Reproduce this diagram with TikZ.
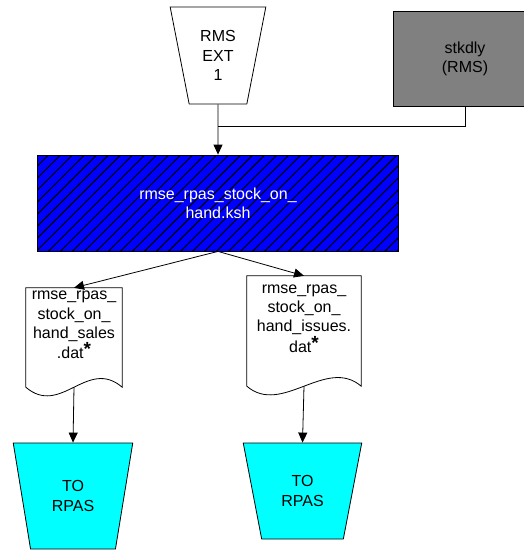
\documentclass[tikz,border=0pt]{standalone}
\usepackage{fontspec}
\setmainfont{Liberation Sans}
\usetikzlibrary{shapes.geometric,arrows.meta,patterns.meta}

\definecolor{stkgray}{RGB}{128,128,128}
\definecolor{kshblue}{RGB}{0,0,255}
\definecolor{rpascyan}{RGB}{0,255,255}

\newcommand{\datstar}{\raisebox{3pt}{\fontsize{19}{19}\selectfont\bfseries *}}

\tikzset{
  every node/.style={font=\fontsize{16}{19.2}\selectfont, align=center},
  outlet/.style={draw, line width=0.8pt, trapezium, shape border rotate=180,
    trapezium stretches=true, inner sep=0pt},
  datfile/.style={inner sep=2pt},
  flow/.style={line width=0.8pt},
  arr/.style={line width=0.8pt, -{Triangle[length=10pt,width=9pt]}}
}

\begin{document}
\begin{tikzpicture}[x=1pt,y=1pt,yscale=-1]
  \useasboundingbox (0,0) rectangle (523,552);

  \node[outlet, trapezium angle=76.7, minimum width=96pt, minimum height=97pt] (ext) at (218,55.5) {RMS\\EXT\\1};
  \node[draw, line width=0.8pt, fill=stkgray, minimum width=144pt, minimum height=95pt] (stk) at (465,58.5) {stkdly\\(RMS)};
  \node[draw, line width=0.8pt, fill=kshblue, text=white,
    postaction={pattern={Lines[angle=45,distance=8.5pt,line width=1.1pt]}},
    minimum width=361pt, minimum height=96pt] (soh) at (218,203) {rmse\_rpas\_stock\_on\_\\hand.ksh};

  \node[datfile, minimum width=96pt, minimum height=99pt] (sales) at (74,337.5)
    {rmse\_rpas\_\\stock\_on\_\\hand\_sales\\.dat\datstar\\[6pt]};
  \node[datfile, minimum width=114pt, minimum height=110pt] (issues) at (304,331)
    {rmse\_rpas\_\\stock\_on\_\\hand\_issues.\\dat\datstar\\[6pt]};
  \foreach \f in {sales,issues}
    \draw[flow] (\f.north west) -- (\f.north east) -- (\f.south east)
      .. controls +(-35,-30) and +(35,30) .. (\f.south west) -- cycle;

  \node[outlet, fill=rpascyan, trapezium angle=74.2, minimum width=120pt, minimum height=106pt] (rpasa) at (73,496) {TO\\RPAS};
  \node[outlet, fill=rpascyan, trapezium angle=72.6, minimum width=119pt, minimum height=96pt] (rpasb) at (302.5,491) {TO\\RPAS};

  % links
  \coordinate (join) at (218,126);
  \draw[flow] (stk.south) |- (join);
  \draw[arr] (ext.south) -- (soh.north);
  \draw[arr] (soh.south) -- (sales.north);
  \draw[arr] (soh.south) -- (issues.north);
  \draw[arr] (sales.south) -- (rpasa.north);
  \draw[arr] (issues.south) -- (rpasb.north);
\end{tikzpicture}
\end{document}
